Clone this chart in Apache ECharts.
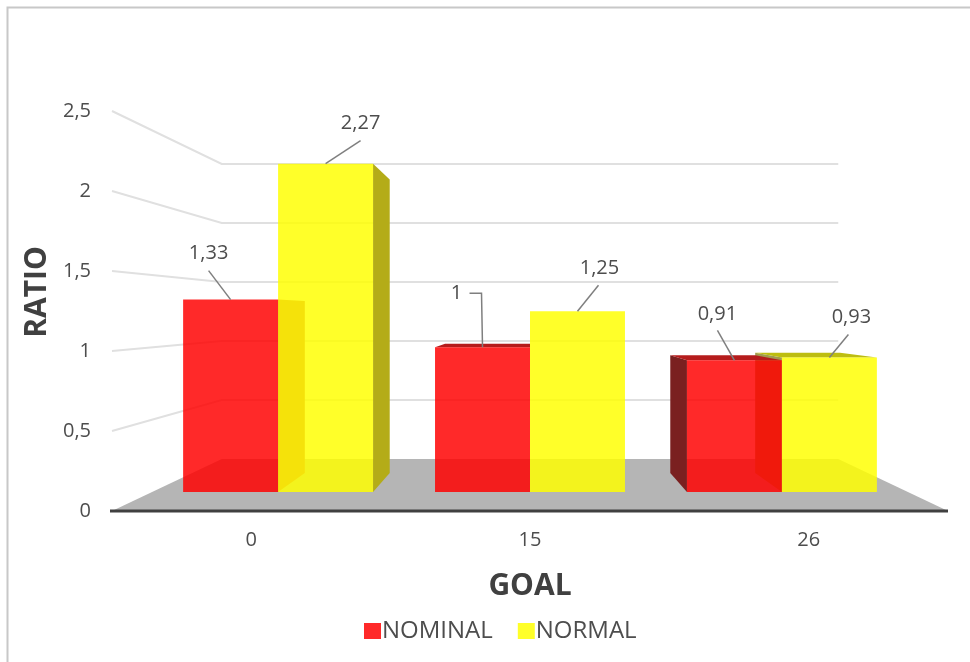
<!DOCTYPE html>
<html>
<head>
<meta charset="utf-8">
<style>html,body{margin:0;padding:0;background:#fff}#chart{width:970px;height:662px}</style>
<script src="https://cdn.jsdelivr.net/npm/echarts@6/dist/echarts.min.js"></script>
</head>
<body>
<div id="chart"></div>
<script>
const goals = ['0', '15', '26'];
const nominal = [1.33, 1, 0.91];
const normal = [2.27, 1.25, 0.93];
const axisTicks = [0, 0.5, 1, 1.5, 2, 2.5];

// Leader routes and label centres, relative to the top-middle of each bar's front face.
const nominalLeaders = [
  { path: [[-22, -29]], text: [-22, -46] },
  { path: [[-1, -54], [-13, -54]], text: [-26, -54] },
  { path: [[-17, -30]], text: [-17, -46] }
];
const normalLeaders = [
  { path: [[35, -23]], text: [35, -40] },
  { path: [[21, -26]], text: [22, -43] },
  { path: [[19, -23]], text: [22, -40] }
];

const FONT = '"Open Sans", sans-serif';
const INK = '#4d4d4d';

// Simple one-point perspective: depth scales a point toward the vanishing point.
const VANISH = [530, 313];
const DEPTH_BACK_WALL = 0.7375;
const DEPTH_BAR_FRONT = 0.904;
const DEPTH_BAR_BACK = 0.808;
const BAR_BAND_RATIO = 0.377;

function project(x, y, s) {
  return [VANISH[0] + (x - VANISH[0]) * s, VANISH[1] + (y - VANISH[1]) * s];
}

function poly(points, fill, z2) {
  return { type: 'polygon', z2, shape: { points }, style: { fill, stroke: 'none' } };
}

function renderEnvironment(params, api) {
  const value = api.value(1);
  const at = api.coord([0, value]);
  const band = api.size([1, 0])[0];
  const left = at[0] - band / 2;
  const right = left + band * goals.length;
  const y = at[1];
  const backL = project(left, y, DEPTH_BACK_WALL);
  const backR = project(right, y, DEPTH_BACK_WALL);
  const children = [];
  if (value === 0) {
    children.push(poly([[left, y], [right, y], backR, backL], '#b5b5b5', 1));
    children.push({
      type: 'line', z2: 2,
      shape: { x1: left - 2, y1: y, x2: right, y2: y },
      style: { stroke: '#404040', lineWidth: 3 }
    });
  } else {
    const lineStyle = { stroke: '#e0e0e0', lineWidth: 2, fill: 'none' };
    children.push({
      type: 'polyline', z2: 1,
      shape: { points: [[left, y], backL, backR] },
      style: lineStyle
    });
  }
  return { type: 'group', children };
}

function barRenderer(offsetSign, colors, leaders) {
  return function (params, api) {
    const idx = api.value(0);
    const val = api.value(1);
    const top = api.coord([idx, val]);
    const base = api.coord([idx, 0]);
    const width = api.size([1, 0])[0] * BAR_BAND_RATIO;
    const x0 = offsetSign < 0 ? top[0] - width : top[0];
    const x1 = x0 + width;

    const fTL = project(x0, top[1], DEPTH_BAR_FRONT);
    const fTR = project(x1, top[1], DEPTH_BAR_FRONT);
    const fBL = project(x0, base[1], DEPTH_BAR_FRONT);
    const fBR = project(x1, base[1], DEPTH_BAR_FRONT);
    const bTL = project(x0, top[1], DEPTH_BAR_BACK);
    const bTR = project(x1, top[1], DEPTH_BAR_BACK);
    const bBL = project(x0, base[1], DEPTH_BAR_BACK);
    const bBR = project(x1, base[1], DEPTH_BAR_BACK);

    const children = [];
    // Only the faces turned toward the viewer are drawn, back to front through z2.
    if (fTR[0] < VANISH[0] - 1) {
      children.push(poly([fTR, bTR, bBR, fBR], colors.right, 4));
    }
    if (fTL[0] > VANISH[0] + 1) {
      children.push(poly([bTL, fTL, fBL, bBL], colors.left, 4));
    }
    if (fTL[1] > VANISH[1]) {
      children.push(poly([bTL, bTR, fTR, fTL], colors.top, 5));
    }
    children.push(poly([fTL, fTR, fBR, fBL], colors.front, 10));

    const anchor = [(fTL[0] + fTR[0]) / 2, fTL[1]];
    const leader = leaders[params.dataIndex];
    children.push({
      type: 'polyline', z2: 20,
      shape: { points: [anchor].concat(leader.path.map(p => [anchor[0] + p[0], anchor[1] + p[1]])) },
      style: { stroke: '#7f7f7f', lineWidth: 1.5, fill: 'none' }
    });
    children.push({
      type: 'text', z2: 21,
      style: {
        text: String(val).replace('.', ','),
        x: anchor[0] + leader.text[0],
        y: anchor[1] + leader.text[1],
        align: 'center', verticalAlign: 'middle',
        fontFamily: FONT, fontSize: 20, fill: INK
      }
    });
    return { type: 'group', children };
  };
}

const chart = echarts.init(document.getElementById('chart'), null, { renderer: 'canvas' });
chart.setOption({
  backgroundColor: '#ffffff',
  animation: false,
  grid: { left: 112, width: 836, top: 111, height: 400, outerBoundsMode: 'none' },
  xAxis: {
    type: 'category',
    data: goals,
    axisLine: { show: false },
    axisTick: { show: false },
    axisLabel: { margin: 19, fontFamily: FONT, fontSize: 20, color: INK },
    name: 'GOAL',
    nameLocation: 'middle',
    nameGap: 60,
    nameTextStyle: { fontFamily: FONT, fontSize: 30, fontWeight: 'bold', color: '#404040' }
  },
  yAxis: {
    type: 'value',
    min: 0,
    max: 2.5,
    interval: 0.5,
    axisLine: { show: false },
    axisTick: { show: false },
    splitLine: { show: false },
    axisLabel: {
      margin: 21,
      fontFamily: FONT, fontSize: 20, color: INK,
      formatter: v => String(v).replace('.', ',')
    },
    name: 'RATIO',
    nameLocation: 'middle',
    nameGap: 57,
    nameTextStyle: { fontFamily: FONT, fontSize: 30, fontWeight: 'bold', color: '#404040', padding: [0, 0, 0, 38] }
  },
  legend: {
    data: ['NOMINAL', 'NORMAL'],
    left: 359,
    top: 614,
    icon: 'rect',
    itemWidth: 17,
    itemHeight: 16,
    itemGap: 25,
    textStyle: { fontFamily: FONT, fontSize: 24, color: INK, padding: [0, 0, 0, -4] }
  },
  graphic: [{
    type: 'polyline',
    silent: true,
    shape: { points: [[7.5, 662], [7.5, 7.5], [970, 7.5]] },
    style: { stroke: '#c8c8c8', lineWidth: 2, fill: 'none' }
  }],
  series: [
    {
      type: 'custom',
      name: 'walls',
      z: 1,
      clip: false,
      silent: true,
      renderItem: renderEnvironment,
      encode: { x: 0, y: 1 },
      data: axisTicks.map(v => [0, v])
    },
    {
      type: 'custom',
      name: 'NOMINAL',
      z: 2,
      clip: false,
      itemStyle: { color: 'rgba(255,0,0,0.84)' },
      renderItem: barRenderer(-1, {
        front: 'rgba(255,0,0,0.84)',
        top: '#b51c1c',
        left: '#7a2020',
        right: '#c24e43'
      }, nominalLeaders),
      encode: { x: 0, y: 1 },
      data: nominal.map((v, i) => [i, v])
    },
    {
      type: 'custom',
      name: 'NORMAL',
      z: 2,
      clip: false,
      itemStyle: { color: 'rgba(255,255,0,0.84)' },
      renderItem: barRenderer(1, {
        front: 'rgba(255,255,0,0.84)',
        top: '#bdbd10',
        left: '#a19b4e',
        right: '#b4ac18'
      }, normalLeaders),
      encode: { x: 0, y: 1 },
      data: normal.map((v, i) => [i, v])
    }
  ]
});
</script>
</body>
</html>
